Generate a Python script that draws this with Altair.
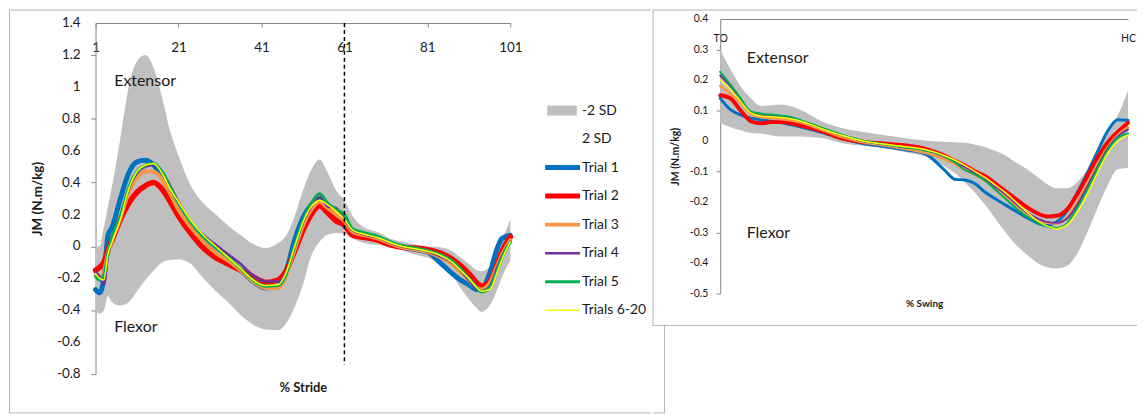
import altair as alt
import pandas as pd

# ---------------- left panel: % stride ----------------
stride_x = [1, 2, 3, 4, 5, 7, 9, 11, 13, 15, 17, 19, 21, 24, 27, 30, 33, 36, 39, 42, 45, 47, 49, 51, 53,
            55, 57, 59, 61, 63, 66, 69, 72, 75, 78, 81, 84, 87, 89, 91, 93, 94, 96, 98, 99, 101]
stride_hi = [0.0, 0.0, 0.12, 0.25, 0.38, 0.68, 1.0, 1.16, 1.20, 1.12, 0.94, 0.72, 0.57, 0.38, 0.27, 0.20,
             0.13, 0.07, 0.015, -0.01, 0.02, 0.07, 0.19, 0.35, 0.48, 0.545, 0.46, 0.35, 0.29, 0.19, 0.115,
             0.09, 0.05, 0.03, 0.012, 0.002, -0.005, -0.03, -0.07, -0.11, -0.15, -0.155, -0.13, -0.02, 0.04, 0.17]
stride_lo = [-0.41, -0.42, -0.40, -0.31, -0.35, -0.37, -0.35, -0.28, -0.21, -0.15, -0.10, -0.085, -0.08, -0.11,
             -0.20, -0.28, -0.35, -0.43, -0.49, -0.52, -0.525, -0.48, -0.38, -0.24, -0.06, 0.03, 0.075, 0.085,
             0.08, 0.05, 0.02, 0.01, -0.005, -0.025, -0.05, -0.07, -0.11, -0.18, -0.26, -0.33, -0.39, -0.41,
             -0.37, -0.26, -0.19, -0.09]
stride_t1 = [-0.27, -0.29, -0.20, 0.07, 0.12, 0.30, 0.46, 0.53, 0.54, 0.51, 0.44, 0.33, 0.22, 0.11, 0.02, -0.05,
             -0.10, -0.15, -0.22, -0.26, -0.25, -0.15, 0.04, 0.18, 0.26, 0.29, 0.25, 0.18, 0.13, 0.09, 0.07,
             0.05, 0.02, -0.005, -0.02, -0.035, -0.10, -0.17, -0.21, -0.24, -0.27, -0.27, -0.17, 0.0, 0.05, 0.07]
stride_t2 = [-0.15, -0.13, -0.10, -0.02, 0.04, 0.17, 0.27, 0.34, 0.38, 0.40, 0.36, 0.28, 0.19, 0.08, -0.01, -0.07,
             -0.11, -0.15, -0.19, -0.225, -0.21, -0.15, -0.03, 0.10, 0.20, 0.255, 0.21, 0.16, 0.135, 0.07, 0.055,
             0.04, 0.01, -0.005, -0.01, -0.02, -0.04, -0.08, -0.12, -0.17, -0.23, -0.25, -0.22, -0.10, -0.03, 0.06]
stride_t3 = [-0.18, -0.19, -0.16, -0.04, 0.04, 0.18, 0.34, 0.43, 0.47, 0.47, 0.42, 0.33, 0.23, 0.12, 0.03, -0.04,
             -0.09, -0.15, -0.22, -0.26, -0.26, -0.18, -0.02, 0.13, 0.23, 0.28, 0.24, 0.20, 0.16, 0.09, 0.07,
             0.05, 0.02, -0.005, -0.02, -0.035, -0.065, -0.11, -0.16, -0.21, -0.26, -0.27, -0.23, -0.11, -0.05, 0.04]
stride_t4 = [-0.16, -0.19, -0.24, -0.06, 0.05, 0.19, 0.36, 0.46, 0.50, 0.51, 0.47, 0.38, 0.28, 0.15, 0.07, 0.01,
             -0.05, -0.11, -0.18, -0.22, -0.22, -0.16, 0.0, 0.15, 0.25, 0.31, 0.25, 0.24, 0.17, 0.10, 0.075,
             0.055, 0.025, 0.0, -0.015, -0.03, -0.06, -0.10, -0.15, -0.21, -0.27, -0.28, -0.25, -0.12, -0.06, 0.03]
stride_t5 = [-0.19, -0.21, -0.18, -0.04, 0.06, 0.19, 0.37, 0.47, 0.51, 0.52, 0.47, 0.37, 0.27, 0.15, 0.06, -0.01,
             -0.07, -0.14, -0.21, -0.25, -0.245, -0.17, 0.0, 0.16, 0.27, 0.33, 0.27, 0.23, 0.20, 0.11, 0.085,
             0.065, 0.03, 0.005, -0.01, -0.025, -0.05, -0.09, -0.14, -0.20, -0.26, -0.285, -0.26, -0.14, -0.07, 0.025]
stride_t6 = [-0.17, -0.20, -0.21, -0.05, 0.03, 0.17, 0.36, 0.47, 0.51, 0.52, 0.46, 0.36, 0.28, 0.16, 0.07, 0.0,
             -0.07, -0.14, -0.21, -0.245, -0.24, -0.16, 0.0, 0.15, 0.25, 0.29, 0.26, 0.22, 0.17, 0.10, 0.075,
             0.055, 0.025, 0.0, -0.015, -0.03, -0.055, -0.10, -0.15, -0.20, -0.26, -0.28, -0.27, -0.15, -0.08, 0.03]

# ---------------- right panel: % swing ----------------
swing_x = [0, 2.5, 5, 7.5, 10, 12.5, 15, 17.5, 20, 25, 30, 35, 40, 45, 50, 55, 57.5, 60, 62.5, 65, 67.5,
           70, 72.5, 75, 77.5, 80, 82.5, 85, 87.5, 90, 92.5, 95, 97.5, 100]
swing_hi = [0.30, 0.235, 0.18, 0.14, 0.115, 0.117, 0.12, 0.113, 0.10, 0.064, 0.042, 0.03, 0.02, 0.01, 0.002,
            -0.002, -0.004, -0.006, -0.012, -0.02, -0.033, -0.048, -0.07, -0.09, -0.115, -0.14, -0.155, -0.155,
            -0.135, -0.095, -0.04, 0.028, 0.085, 0.165]
swing_lo = [0.06, 0.045, 0.035, 0.026, 0.025, 0.018, 0.015, 0.015, 0.015, 0.01, -0.007, -0.015, -0.022, -0.035,
            -0.05, -0.083, -0.105, -0.135, -0.17, -0.21, -0.255, -0.30, -0.34, -0.37, -0.397, -0.413, -0.418,
            -0.41, -0.37, -0.30, -0.22, -0.145, -0.092, -0.088]
swing_t1 = [0.14, 0.103, 0.086, 0.075, 0.07, 0.065, 0.06, 0.053, 0.045, 0.028, 0.008, -0.008, -0.018, -0.028,
            -0.04, -0.095, -0.125, -0.128, -0.14, -0.168, -0.19, -0.21, -0.23, -0.25, -0.267, -0.276, -0.265,
            -0.23, -0.17, -0.105, -0.035, 0.033, 0.07, 0.068]
swing_t2 = [0.15, 0.14, 0.10, 0.065, 0.058, 0.062, 0.062, 0.058, 0.05, 0.032, 0.008, -0.003, -0.008, -0.014,
            -0.025, -0.048, -0.065, -0.08, -0.10, -0.115, -0.14, -0.165, -0.19, -0.215, -0.235, -0.247, -0.245,
            -0.225, -0.175, -0.115, -0.055, -0.005, 0.03, 0.06]
swing_t3 = [0.18, 0.155, 0.125, 0.088, 0.078, 0.075, 0.072, 0.067, 0.06, 0.036, 0.012, -0.004, -0.014, -0.025,
            -0.038, -0.06, -0.075, -0.095, -0.11, -0.13, -0.155, -0.18, -0.21, -0.235, -0.255, -0.268, -0.27,
            -0.25, -0.20, -0.14, -0.075, -0.02, 0.02, 0.045]
swing_t4 = [0.215, 0.18, 0.135, 0.094, 0.085, 0.083, 0.08, 0.075, 0.065, 0.042, 0.019, 0.0, -0.01, -0.02,
            -0.028, -0.05, -0.065, -0.085, -0.105, -0.125, -0.15, -0.175, -0.205, -0.232, -0.252, -0.265, -0.268,
            -0.255, -0.21, -0.15, -0.085, -0.025, 0.015, 0.038]
swing_t5 = [0.227, 0.185, 0.14, 0.097, 0.09, 0.087, 0.083, 0.078, 0.067, 0.043, 0.02, 0.001, -0.01, -0.02,
            -0.03, -0.05, -0.07, -0.095, -0.11, -0.13, -0.16, -0.19, -0.22, -0.245, -0.265, -0.28, -0.285,
            -0.27, -0.22, -0.16, -0.09, -0.03, 0.01, 0.025]
swing_t6 = [0.20, 0.17, 0.13, 0.092, 0.082, 0.08, 0.077, 0.072, 0.064, 0.04, 0.018, 0.0, -0.01, -0.018,
            -0.027, -0.048, -0.062, -0.08, -0.10, -0.12, -0.145, -0.17, -0.20, -0.23, -0.258, -0.278, -0.288,
            -0.275, -0.235, -0.175, -0.105, -0.04, 0.0, 0.02]

trial_names = ["Trial 1", "Trial 2", "Trial 3", "Trial 4", "Trial 5", "Trials 6-20"]
trial_colors = ["#0070C0", "#FF0000", "#F79646", "#7030A0", "#00B050", "#FFFF00"]
stride_trials = [stride_t1, stride_t2, stride_t3, stride_t4, stride_t5, stride_t6]
swing_trials = [swing_t1, swing_t2, swing_t3, swing_t4, swing_t5, swing_t6]

stride_ticks = [1, 21, 41, 61, 81, 101]
left_y_ticks = [-0.8, -0.6, -0.4, -0.2, 0, 0.2, 0.4, 0.6, 0.8, 1, 1.2, 1.4]
right_y_ticks = [-0.5, -0.4, -0.3, -0.2, -0.1, 0, 0.1, 0.2, 0.3, 0.4]
swing_ticks = [0, 100]
swing_tick_labels = ["TO", "HC"]
legend_labels = ["-2 SD", "2 SD"] + trial_names
legend_colors = ["#BFBFBF", "#FFFFFF"] + trial_colors
stance_end = [61]
notes_text = ["Extensor", "Flexor"]
left_note_x = [5.5, 5.5]
left_note_y = [1.035, -0.505]
right_note_x = [6.5, 6.5]
right_note_y = [0.272, -0.302]

# ---------------- style ----------------
FONT = "Lato"
AXIS_GRAY = "#868686"
TXT = "#1a1a1a"
BAND = "#BFBFBF"
FRAME = "#B4B4B4"
LW, LH = 417, 353
RW, RH = 410, 276
RSHIFT = 4          # right plot sits 4px higher than the left one
left_widths = [5, 5.5, 4, 2.5, 3, 1.5]
right_widths = [3, 4, 2.5, 2, 2, 1.5]
legend_widths = [10, 0, 5, 5, 4, 2.5, 3, 1.5]

one = pd.DataFrame({"k": [0]})


def hline(x1, x2, y):
    return alt.Chart(one).mark_rule(color=FRAME, strokeWidth=1).encode(
        x=alt.value(x1), x2=alt.value(x2), y=alt.value(y))


def vline(x, y1, y2):
    return alt.Chart(one).mark_rule(color=FRAME, strokeWidth=1).encode(
        x=alt.value(x), y=alt.value(y1), y2=alt.value(y2))


def tick_labels(values, yscale, xpos, size):
    df = pd.DataFrame({"v": values, "lab": ["%g" % v for v in values]})
    return alt.Chart(df).mark_text(align="right", baseline="middle", font=FONT, fontSize=size,
                                   color=TXT).encode(
        x=alt.value(xpos),
        y=alt.Y("v:Q", scale=yscale),
        text="lab:N",
    )


def panel(xs, lo, hi, trials, widths, xscale, yscale, xaxis, yaxis, note_x, note_y, note_size):
    band_df = pd.DataFrame({"x": xs, "lo": lo, "hi": hi})
    band = alt.Chart(band_df).mark_area(color=BAND, opacity=1, interpolate="monotone").encode(
        x=alt.X("x:Q", scale=xscale, axis=xaxis),
        y=alt.Y("lo:Q", scale=yscale, axis=yaxis),
        y2="hi:Q",
    )
    layers = [band]
    for name, vals, col, w in zip(trial_names, trials, trial_colors, widths):
        df = pd.DataFrame({"x": xs, "y": vals, "trial": name})
        layers.append(
            alt.Chart(df).mark_line(color=col, strokeWidth=w, interpolate="monotone",
                                    strokeCap="round", strokeJoin="round").encode(
                x=alt.X("x:Q", scale=xscale),
                y=alt.Y("y:Q", scale=yscale),
            )
        )
    notes = pd.DataFrame({"x": note_x, "y": note_y, "t": notes_text})
    layers.append(
        alt.Chart(notes).mark_text(align="left", baseline="middle", font=FONT, fontSize=note_size,
                                   color=TXT).encode(
            x=alt.X("x:Q", scale=xscale),
            y=alt.Y("y:Q", scale=yscale),
            text="t:N",
        )
    )
    return layers


# ---------------- left chart ----------------
sx_l = alt.Scale(domain=[1, 101], nice=False, zero=False)
sy_l = alt.Scale(domain=[-0.8, 1.4], nice=False)
xaxis_l = alt.Axis(orient="bottom", offset=-LH, values=stride_ticks, format="d", tickSize=4,
                   labelPadding=21, labelBaseline="middle", labelFontSize=13.5, labelFlush=False,
                   labelOverlap=False,
                   title="% Stride", titleY=366, titleBaseline="middle", titleFontSize=13,
                   titleFontWeight="bold", grid=False, domainColor=AXIS_GRAY, tickColor=AXIS_GRAY,
                   labelColor=TXT, titleColor=TXT, labelFont=FONT, titleFont=FONT)
yaxis_l = alt.Axis(values=left_y_ticks, labels=False, tickSize=5,
                   title="JM (N.m/kg)", titleX=-58, titleY=176.5,
                   titleAngle=270, titleAlign="center", titleBaseline="middle", titleFontSize=13.5,
                   titleFontWeight="bold", grid=False, domainColor=AXIS_GRAY, tickColor=AXIS_GRAY,
                   titleColor=TXT, titleFont=FONT)

left_layers = panel(stride_x, stride_lo, stride_hi, stride_trials, left_widths, sx_l, sy_l,
                    xaxis_l, yaxis_l, left_note_x, left_note_y, 16)
left_layers.append(tick_labels(left_y_ticks, sy_l, -15, 13.5))
dash_df = pd.DataFrame({"x": stance_end, "y": [1.4], "y2": [-0.74]})
left_layers.append(
    alt.Chart(dash_df).mark_rule(color="#000000", strokeWidth=1.5, strokeDash=[4, 3]).encode(
        x=alt.X("x:Q", scale=sx_l),
        y=alt.Y("y:Q", scale=sy_l),
        y2="y2:Q",
    )
)
left_main = alt.layer(*left_layers)

legend_df = pd.DataFrame({
    "row": list(range(len(legend_labels))),
    "label": legend_labels,
    "color": legend_colors,
    "w": legend_widths,
    "x0": [0.06] + [0.0] * 7,
    "x1": [0.91] + [1.0] * 7,
    "xt": [1.0] * 8,
})
lx = alt.Scale(domain=[0, 1], range=[452, 487])
ly = alt.Scale(domain=[0, 7], range=[88, 288.7])
legend_rules = alt.Chart(legend_df).mark_rule(strokeCap="butt").encode(
    x=alt.X("x0:Q", scale=lx, axis=None),
    x2="x1:Q",
    y=alt.Y("row:Q", scale=ly, axis=None),
    color=alt.Color("color:N", scale=None),
    strokeWidth=alt.StrokeWidth("w:Q", scale=None),
)
legend_text = alt.Chart(legend_df).mark_text(align="left", baseline="middle", dx=2, font=FONT,
                                             fontSize=14, color=TXT).encode(
    x=alt.X("xt:Q", scale=lx, axis=None),
    y=alt.Y("row:Q", scale=ly, axis=None),
    text="label:N",
)
legend = alt.layer(legend_rules, legend_text)

FT = -13  # frame top, relative to the plot origin
left_frame = [
    hline(-87, 558, FT),
    vline(-86.5, FT, 392),
    hline(-87, 558, 392),
]
left = alt.layer(left_main, legend, *left_frame).resolve_scale(
    x="independent", y="independent").properties(width=LW, height=LH)

# ---------------- right chart ----------------
sx_r = alt.Scale(domain=[0, 100], nice=False, zero=False)
sy_r = alt.Scale(domain=[-0.5, 0.4], nice=False, range=[RH - RSHIFT, -RSHIFT])
swing_expr = "datum.value == %s ? '%s' : '%s'" % (swing_ticks[0], swing_tick_labels[0], swing_tick_labels[1])
xaxis_r = alt.Axis(orient="bottom", offset=-(RH + RSHIFT), values=swing_ticks, labelExpr=swing_expr,
                   tickSize=0, labelPadding=20, labelBaseline="middle", labelFontSize=10.5,
                   labelFlush=False, labelOverlap=False, title="% Swing", titleY=286,
                   titleBaseline="middle", titleFontSize=10, titleFontWeight="bold", grid=False,
                   domainColor=AXIS_GRAY, tickColor=AXIS_GRAY, labelColor=TXT, titleColor=TXT,
                   labelFont=FONT, titleFont=FONT)
yaxis_r = alt.Axis(values=right_y_ticks, labels=False, tickSize=4,
                   title="JM (N.m/kg)", titleX=-45, titleY=134,
                   titleAngle=270, titleAlign="center", titleBaseline="middle", titleFontSize=10.5,
                   titleFontWeight="bold", grid=False, domainColor=AXIS_GRAY, tickColor=AXIS_GRAY,
                   titleColor=TXT, titleFont=FONT)
right_layers = panel(swing_x, swing_lo, swing_hi, swing_trials, right_widths, sx_r, sy_r,
                     xaxis_r, yaxis_r, right_note_x, right_note_y, 16)
right_layers.append(tick_labels(right_y_ticks, sy_r, -12, 10.5))
right_frame = [
    hline(-68, 419, FT),
    vline(-67.5, FT, 304),
    hline(-68, 419, 304),
    vline(-56, 304, 392),
    hline(-68, -56, 392),
]
right = alt.layer(*right_layers, *right_frame).properties(width=RW, height=RH)

chart = alt.hconcat(left, right, spacing=0).properties(padding=0).configure(
    font=FONT).configure_view(stroke=None)

chart.save("out.html", embed_options={"renderer": "svg", "actions": False})
